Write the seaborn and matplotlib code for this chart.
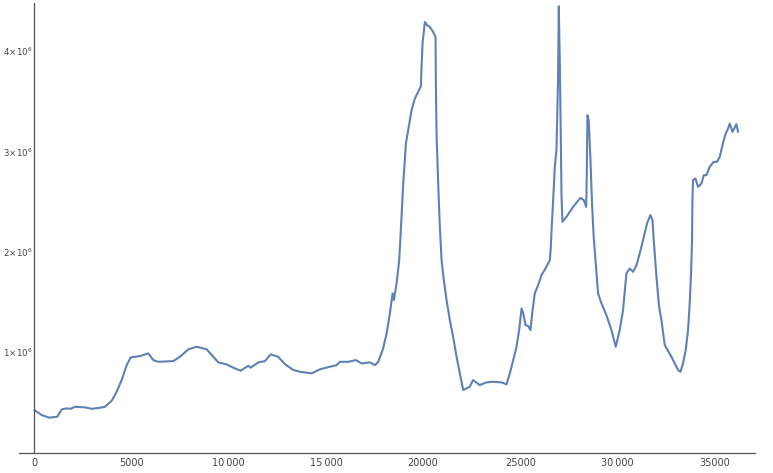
import numpy as np
import pandas as pd
import matplotlib
matplotlib.use("Agg")
import matplotlib.pyplot as plt
import seaborn as sns
from matplotlib.ticker import MultipleLocator

# values (x = index, y in millions)
x_vals = [0, 380, 770, 1180, 1410, 1665, 1870, 2090, 2610, 2950, 3380, 3635, 3980, 4235,
          4490, 4750, 4955, 5435, 5860, 6120, 6375, 7150, 7490, 7920, 8350, 8865, 9205,
          9465, 9890, 10235, 10610, 11005, 11125, 11520, 11860, 12155, 12545, 12890,
          13320, 13660, 14265, 14690, 15205, 15550, 15720, 16145, 16540, 16835, 17260,
          17520, 17690, 17945, 18120, 18290, 18430, 18495, 18635, 18770, 18890, 18975,
          19115, 19230, 19405, 19575, 19745, 19885, 19920, 19970, 20090, 20210, 20345,
          20520, 20640, 20655, 20690, 20775, 20860, 20950, 21065, 21205, 21375, 21545,
          21720, 21890, 22060, 22235, 22400, 22570, 22915, 23260, 23600, 24035, 24290,
          24460, 24635, 24805, 24940, 25065, 25150, 25270, 25405, 25525, 25630, 25745,
          25915, 26090, 26345, 26520, 26570, 26620, 26690, 26775, 26860, 26940, 26980,
          27030, 27080, 27120, 27170, 27375, 27715, 28095, 28265, 28390, 28420, 28455,
          28520, 28610, 28690, 28775, 28880, 29000, 29175, 29430, 29690, 29910, 30115,
          30285, 30460, 30630, 30800, 30975, 31145, 31315, 31520, 31695, 31800, 31865,
          32005, 32140, 32260, 32430, 32600, 32775, 32945, 33115, 33240, 33370, 33510,
          33630, 33715, 33785, 33835, 33855, 33885, 34010, 34145, 34320, 34440, 34575,
          34745, 34950, 35120, 35260, 35345, 35465, 35570, 35690, 35775, 35915, 36030,
          36120, 36205]
y_vals = [0.423, 0.373, 0.347, 0.357, 0.430, 0.440, 0.436, 0.456, 0.450, 0.436, 0.446,
          0.456, 0.516, 0.606, 0.722, 0.871, 0.948, 0.961, 0.988, 0.921, 0.904, 0.911,
          0.954, 1.028, 1.054, 1.028, 0.954, 0.898, 0.878, 0.845, 0.815, 0.865, 0.845,
          0.898, 0.911, 0.978, 0.954, 0.881, 0.822, 0.805, 0.789, 0.829, 0.855, 0.871,
          0.904, 0.904, 0.921, 0.888, 0.898, 0.871, 0.904, 1.038, 1.187, 1.386, 1.586,
          1.519, 1.685, 1.917, 2.349, 2.681, 3.080, 3.212, 3.411, 3.528, 3.594, 3.650,
          3.843, 4.076, 4.291, 4.258, 4.241, 4.191, 4.141, 3.677, 3.179, 2.681, 2.249,
          1.917, 1.718, 1.519, 1.320, 1.153, 0.954, 0.789, 0.623, 0.639, 0.656, 0.722,
          0.672, 0.699, 0.705, 0.699, 0.679, 0.789, 0.921, 1.054, 1.220, 1.436, 1.386,
          1.270, 1.260, 1.220, 1.419, 1.586, 1.668, 1.768, 1.851, 1.917, 2.050, 2.266,
          2.515, 2.847, 3.013, 3.700, 4.447, 3.900, 3.200, 2.548, 2.299, 2.349, 2.448,
          2.538, 2.515, 2.448, 2.780, 3.361, 3.312, 2.913, 2.482, 2.149, 1.884, 1.586,
          1.486, 1.370, 1.220, 1.054, 1.220, 1.419, 1.785, 1.834, 1.801, 1.867, 1.984,
          2.117, 2.283, 2.366, 2.316, 2.117, 1.751, 1.452, 1.320, 1.071, 1.014, 0.954,
          0.888, 0.822, 0.805, 0.888, 1.021, 1.220, 1.486, 1.785, 2.117, 2.515, 2.714,
          2.731, 2.648, 2.681, 2.764, 2.764, 2.847, 2.897, 2.897, 2.946, 3.013, 3.112,
          3.179, 3.229, 3.279, 3.195, 3.239, 3.272, 3.195]

x_ticks = [0, 5000, 10000, 15000, 20000, 25000, 30000, 35000]
x_tick_labels = ["0", "5000", "10\u2009000", "15\u2009000", "20000", "25000", "30\u2009000", "35000"]
y_ticks = [1e6, 2e6, 3e6, 4e6]
y_tick_labels = [r"$1\!\times\!10^{6}$", r"$2\!\times\!10^{6}$",
                 r"$3\!\times\!10^{6}$", r"$4\!\times\!10^{6}$"]

df = pd.DataFrame({"x": x_vals, "y": np.array(y_vals) * 1e6})

sns.set_style("white")
plt.rcParams["font.family"] = ["DejaVu Sans"]
plt.rcParams["mathtext.fontset"] = "dejavusans"

fig = plt.figure(figsize=(7.73, 4.73), dpi=100)
ax = fig.add_axes([0.0246, 0.0433, 0.952, 0.9504])

sns.lineplot(data=df, x="x", y="y", sort=False, estimator=None,
             color="#5E81B5", linewidth=1.5, ax=ax)

ax.set_xlim(-790, 37070)
ax.set_ylim(0, 4.48e6)

ax.spines["top"].set_visible(False)
ax.spines["right"].set_visible(False)
ax.spines["left"].set_position(("data", 0))
for s in ("left", "bottom"):
    ax.spines[s].set_color("#555555")
    ax.spines[s].set_linewidth(0.9)

ax.set_xticks(x_ticks)
ax.set_xticklabels(x_tick_labels)
ax.set_yticks(y_ticks)
ax.set_yticklabels(y_tick_labels)
ax.xaxis.set_minor_locator(MultipleLocator(1000))
ax.yaxis.set_minor_locator(MultipleLocator(2e5))

ax.tick_params(axis="both", which="major", direction="in", length=4, width=0.8,
               color="#555555", labelsize=7, labelcolor="#444444")
ax.tick_params(axis="both", which="minor", direction="in", length=2, width=0.6,
               color="#555555")
ax.tick_params(axis="x", which="major", pad=4)
ax.tick_params(axis="y", which="major", labelsize=6.2, pad=1.5)

ax.set_xlabel("")
ax.set_ylabel("")
ax.grid(False)

fig.savefig("out.png", dpi=100)
